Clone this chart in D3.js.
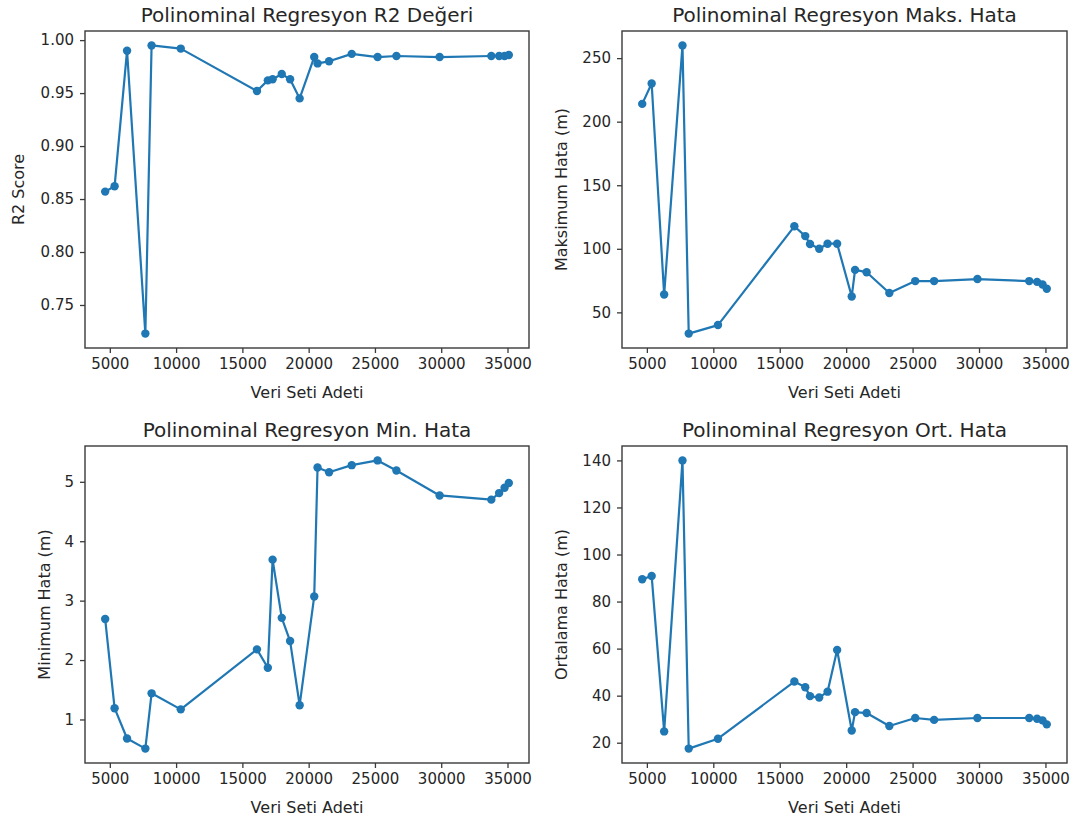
<!DOCTYPE html>
<html>
<head>
<meta charset="utf-8">
<script src="https://cdn.jsdelivr.net/npm/d3@7"></script>
<style>
  html, body { margin: 0; padding: 0; background: #fff; }
  svg { display: block; font-family: "DejaVu Sans", sans-serif; }
</style>
</head>
<body>
<script>
// ---- data ----
const datasetSizes = [4650, 5360, 6300, 7680, 8150, 10350, 16100, 16920, 17280, 17970, 18600, 19320, 20420, 20670, 21540, 23250, 25200, 26620, 29880, 33780, 34370, 34780, 35100];
const r2Scores     = [0.857, 0.862, 0.990, 0.723, 0.995, 0.992, 0.952, 0.962, 0.963, 0.968, 0.963, 0.945, 0.984, 0.978, 0.980, 0.987, 0.984, 0.985, 0.984, 0.985, 0.985, 0.985, 0.986];
const maxErrors    = [214, 230, 64, 260, 33.3, 40, 117.7, 110, 103.8, 100, 104, 104, 62.5, 83.4, 81.6, 65.2, 74.6, 74.6, 76.2, 74.6, 74, 71.9, 68.6];
const minErrors    = [2.69, 1.19, 0.68, 0.51, 1.44, 1.17, 2.18, 1.87, 3.69, 2.71, 2.32, 1.24, 3.07, 5.24, 5.16, 5.28, 5.36, 5.19, 4.77, 4.70, 4.81, 4.90, 4.98];
const meanErrors   = [89.5, 90.9, 24.8, 140, 17.5, 21.7, 46.0, 43.6, 39.8, 39.2, 41.7, 59.4, 25.2, 33.0, 32.6, 27.1, 30.5, 29.7, 30.5, 30.5, 30.2, 29.5, 27.8];

const xTicks    = [5000, 10000, 15000, 20000, 25000, 30000, 35000];
const r2Ticks   = [0.75, 0.80, 0.85, 0.90, 0.95, 1.00];
const maxTicks  = [50, 100, 150, 200, 250];
const minTicks  = [1, 2, 3, 4, 5];
const meanTicks = [20, 40, 60, 80, 100, 120, 140];

const titles  = ["Polinominal Regresyon R2 Değeri", "Polinominal Regresyon Maks. Hata", "Polinominal Regresyon Min. Hata", "Polinominal Regresyon Ort. Hata"];
const yLabels = ["R2 Score", "Maksimum Hata (m)", "Minimum Hata (m)", "Ortalama Hata (m)"];
const xLabel  = "Veri Seti Adeti";

// ---- layout ----
const W = 1083, H = 825;
const svg = d3.select("body").append("svg").attr("width", W).attr("height", H);
svg.append("rect").attr("width", W).attr("height", H).attr("fill", "#fff");

const LINE = "#1f77b4", TXT = "#262626", FRAME = "#3a3a3a";
const TICK_FS = "15px", LAB_FS = "16px", TITLE_FS = "20px";

const panels = [
  { x0: 85,  x1: 529,  y0: 31,  y1: 348, ys: r2Scores,   ticks: r2Ticks,   fmt: d3.format(".2f"), title: titles[0], ylab: yLabels[0], ylabX: 18 },
  { x0: 622, x1: 1067, y0: 31,  y1: 348, ys: maxErrors,  ticks: maxTicks,  fmt: d3.format("d"),   title: titles[1], ylab: yLabels[1], ylabX: 561 },
  { x0: 85,  x1: 529,  y0: 446, y1: 763, ys: minErrors,  ticks: minTicks,  fmt: d3.format("d"),   title: titles[2], ylab: yLabels[2], ylabX: 44 },
  { x0: 622, x1: 1067, y0: 446, y1: 763, ys: meanErrors, ticks: meanTicks, fmt: d3.format("d"),   title: titles[3], ylab: yLabels[3], ylabX: 561 }
];

function padded(ext) {
  const m = (ext[1] - ext[0]) * 0.05;
  return [ext[0] - m, ext[1] + m];
}

panels.forEach(p => {
  const x = d3.scaleLinear().domain(padded(d3.extent(datasetSizes))).range([p.x0, p.x1]);
  const y = d3.scaleLinear().domain(padded(d3.extent(p.ys))).range([p.y1, p.y0]);
  const g = svg.append("g");

  // x axis
  const xa = g.append("g").attr("transform", `translate(0,${p.y1})`)
    .call(d3.axisBottom(x).tickValues(xTicks).tickFormat(d3.format("d")).tickSizeOuter(0).tickSize(5).tickPadding(5));
  xa.select(".domain").remove();
  xa.selectAll("line").attr("stroke", FRAME).attr("stroke-width", 1.3);
  xa.selectAll("text").attr("fill", TXT).style("font-size", TICK_FS).style("font-family", "DejaVu Sans, sans-serif");

  // y axis
  const ya = g.append("g").attr("transform", `translate(${p.x0},0)`)
    .call(d3.axisLeft(y).tickValues(p.ticks).tickFormat(p.fmt).tickSizeOuter(0).tickSize(5).tickPadding(6));
  ya.select(".domain").remove();
  ya.selectAll("line").attr("stroke", FRAME).attr("stroke-width", 1.3);
  ya.selectAll("text").attr("fill", TXT).style("font-size", TICK_FS).style("font-family", "DejaVu Sans, sans-serif");

  // line
  const pts = datasetSizes.map((d, i) => [d, p.ys[i]]);
  g.append("path").datum(pts)
    .attr("fill", "none").attr("stroke", LINE).attr("stroke-width", 2.2).attr("stroke-linejoin", "round")
    .attr("d", d3.line().x(d => x(d[0])).y(d => y(d[1])));
  g.selectAll("circle.pt").data(pts).join("circle")
    .attr("class", "pt").attr("cx", d => x(d[0])).attr("cy", d => y(d[1])).attr("r", 4.2).attr("fill", LINE);

  // frame
  g.append("rect").attr("x", p.x0).attr("y", p.y0).attr("width", p.x1 - p.x0).attr("height", p.y1 - p.y0)
    .attr("fill", "none").attr("stroke", FRAME).attr("stroke-width", 1.4);

  // title
  g.append("text").attr("x", (p.x0 + p.x1) / 2).attr("y", p.y0 - 9).attr("text-anchor", "middle")
    .attr("fill", TXT).style("font-size", TITLE_FS).text(p.title);

  // x label
  g.append("text").attr("x", (p.x0 + p.x1) / 2).attr("y", p.y1 + 50).attr("text-anchor", "middle")
    .attr("fill", TXT).style("font-size", LAB_FS).text(xLabel);

  // y label
  g.append("text").attr("transform", `translate(${p.ylabX + 6},${(p.y0 + p.y1) / 2}) rotate(-90)`)
    .attr("text-anchor", "middle").attr("fill", TXT).style("font-size", LAB_FS).text(p.ylab);
});
</script>
</body>
</html>
